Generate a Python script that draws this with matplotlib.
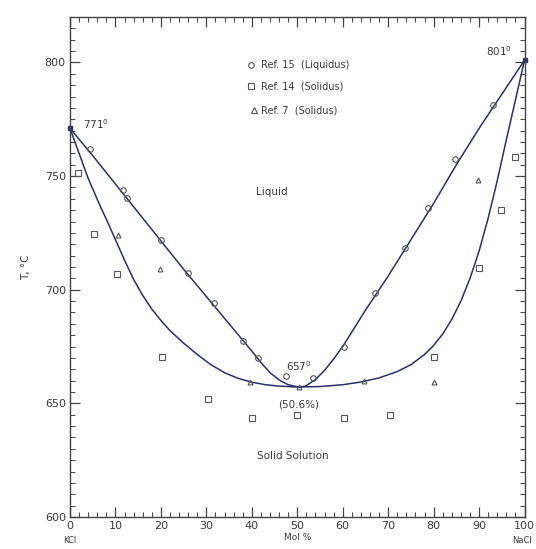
import numpy as np
import matplotlib.pyplot as plt
from matplotlib.ticker import MultipleLocator

# liquidus / solidus curves (mol % NaCl, deg C)
liq_curve_x = [0, 5, 10, 15, 20, 25, 30, 35, 40, 42, 44, 46, 48, 50.6, 52, 54, 56, 58, 60, 65, 70, 75, 80, 85, 90, 95, 100]
liq_curve_T = [771, 759, 746.5, 734, 721.5, 709, 697, 685, 673, 668, 663.5, 660.3, 658.2, 657, 657.8, 660.5, 664.5, 669.5, 675, 691, 706, 722, 738, 755, 771, 786, 801]
sol_curve_x = [0, 2, 4, 6.6, 8, 10, 12, 14, 16, 18, 20, 22, 25, 28, 31, 34, 37, 40, 43, 46, 50, 55, 60,
               64, 68, 72, 75, 78, 80, 82, 84, 86, 88, 90, 92, 94, 96, 98, 100]
sol_curve_T = [771, 760, 749, 737, 731, 722, 713, 704.5, 697.5, 691.5, 686.5, 682, 676.5, 671.5, 667, 663.5, 661, 659.3, 658.2, 657.6, 657.2, 657.4, 658.2,
               659.4, 661.2, 664, 667, 671.5, 675.5, 680.5, 687, 695, 705, 717, 731.5, 748, 766, 783.5, 801]

# Ref. 15 liquidus points
ref15_x = [4.4, 11.6, 12.5, 20, 25.9, 31.7, 38.1, 41.4, 47.6, 53.4, 60.2, 67.2, 73.7, 78.8, 84.7, 93]
ref15_T = [762, 744, 740.5, 722, 707.5, 694, 677.5, 670, 662, 661, 675, 698.7, 718.5, 736, 757.5, 781.5]
# Ref. 14 solidus points
ref14_x = [1.8, 5.2, 10.3, 20.2, 30.3, 40.1, 50, 60.2, 70.3, 80, 90, 94.8, 97.8]
ref14_T = [751.5, 724.5, 707, 670.5, 652, 643.6, 645, 643.6, 645, 670.5, 709.7, 735, 758.5]
# Ref. 7 solidus points
ref7_x = [10.5, 19.8, 39.6, 50.3, 64.7, 80, 89.7]
ref7_T = [724, 709, 659.5, 657, 660, 659.5, 748.5]

line_col = '#2c2f6b'
mk_col = '#555555'
txt_col = '#3a3a3a'

fig = plt.figure(figsize=(5.36, 5.49), dpi=100)
ax = fig.add_axes([0.1306, 0.0583, 0.848, 0.9107])

ax.plot(liq_curve_x, liq_curve_T, color=line_col, lw=1.1)
ax.plot(sol_curve_x, sol_curve_T, color=line_col, lw=1.1)

ax.plot(ref15_x, ref15_T, 'o', ms=4, mfc='none', mec=mk_col, mew=0.8)
ax.plot(ref14_x, ref14_T, 's', ms=4, mfc='none', mec=mk_col, mew=0.8)
ax.plot(ref7_x, ref7_T, '^', ms=3.5, mfc='none', mec=mk_col, mew=0.8)
ax.plot([0, 100], [771, 801], 's', ms=3, color=line_col, clip_on=False)

# legend drawn as markers + text, as in the original
ax.plot([39.8], [799], 'o', ms=4, mfc='none', mec=mk_col, mew=0.8)
ax.plot([39.8], [789.5], 's', ms=4, mfc='none', mec=mk_col, mew=0.8)
ax.plot([40.4], [779], '^', ms=4, mfc='none', mec=mk_col, mew=0.8)
ax.text(42, 799, 'Ref. 15  (Liquidus)', fontsize=7, color=txt_col, va='center')
ax.text(42, 789.5, 'Ref. 14  (Solidus)', fontsize=7, color=txt_col, va='center')
ax.text(42, 779, 'Ref. 7  (Solidus)', fontsize=7, color=txt_col, va='center')

ax.text(2.8, 773, '771$^0$', fontsize=7.5, color=txt_col, va='center')
ax.text(91.5, 805, '801$^0$', fontsize=7.5, color=txt_col, va='center')
ax.text(47.5, 666.5, '657$^0$', fontsize=7.5, color=txt_col, va='center')
ax.text(50.2, 649.5, '(50.6%)', fontsize=7.5, color=txt_col, ha='center', va='center')
ax.text(44.5, 743, 'Liquid', fontsize=7.5, color=txt_col, ha='center', va='center')
ax.text(49, 627, 'Solid Solution', fontsize=7.5, color=txt_col, ha='center', va='center')

ax.set_xlim(0, 100)
ax.set_ylim(600, 820)
ax.xaxis.set_major_locator(MultipleLocator(10))
ax.xaxis.set_minor_locator(MultipleLocator(2))
ax.yaxis.set_major_locator(MultipleLocator(50))
ax.yaxis.set_minor_locator(MultipleLocator(5))
ax.tick_params(which='both', direction='in', top=True, right=True, colors='#444444',
               labelsize=8, labelcolor=txt_col)
ax.tick_params(which='major', length=7, width=0.9, pad=3)
ax.tick_params(which='minor', length=3.5, width=0.7)
for s in ax.spines.values():
    s.set_color('#444444')
    s.set_linewidth(1.0)

ax.set_ylabel('T, °C', fontsize=7.5, color=txt_col, labelpad=10)
ax.set_xlabel('Mol %', fontsize=6.5, color=txt_col, labelpad=1)
ax.text(0, -0.047, 'KCl', transform=ax.transAxes, fontsize=6, color=txt_col, ha='center', va='center')
ax.text(0.995, -0.047, 'NaCl', transform=ax.transAxes, fontsize=6, color=txt_col, ha='center', va='center')

fig.savefig('out.png', dpi=100)
